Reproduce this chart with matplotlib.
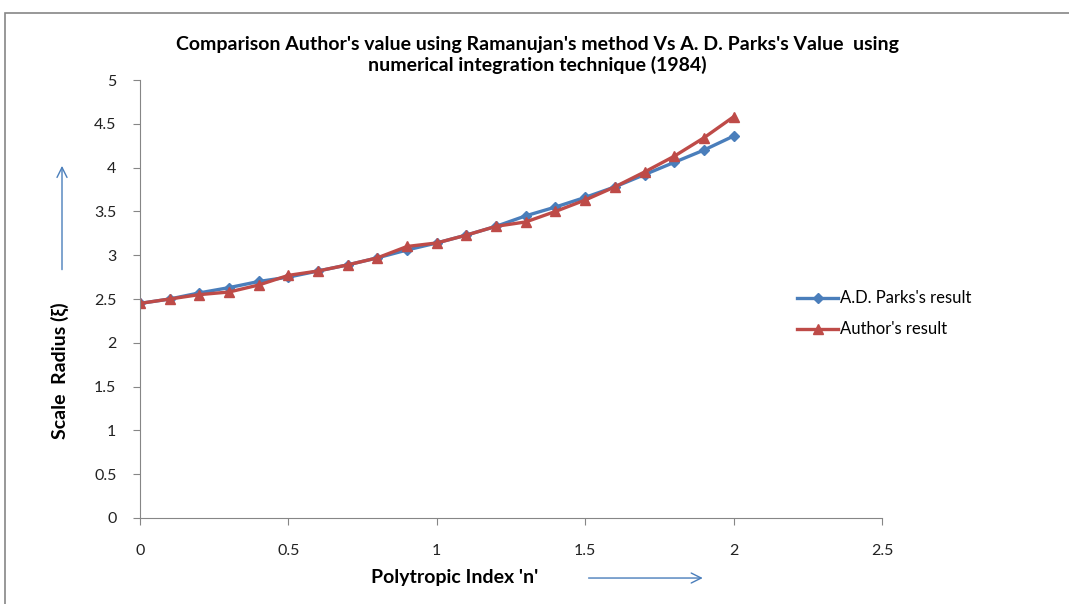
import matplotlib
matplotlib.use('Agg')
import matplotlib.pyplot as plt
from matplotlib.patches import Rectangle

# polytropic index n
n_values = [0.0, 0.1, 0.2, 0.3, 0.4, 0.5, 0.6, 0.7, 0.8, 0.9, 1.0,
            1.1, 1.2, 1.3, 1.4, 1.5, 1.6, 1.7, 1.8, 1.9, 2.0]
# scale radius, A.D. Parks (1984)
parks = [2.45, 2.50, 2.57, 2.63, 2.70, 2.75, 2.82, 2.89, 2.97, 3.06, 3.14,
         3.23, 3.33, 3.45, 3.55, 3.66, 3.78, 3.92, 4.06, 4.20, 4.36]
# scale radius, author (Ramanujan's method)
author = [2.45, 2.50, 2.55, 2.58, 2.66, 2.77, 2.82, 2.89, 2.97, 3.10, 3.14,
          3.23, 3.33, 3.38, 3.50, 3.63, 3.78, 3.95, 4.13, 4.34, 4.58]

x_ticks = [0, 0.5, 1, 1.5, 2, 2.5]
x_tick_labels = ['0', '0.5', '1', '1.5', '2', '2.5']
y_ticks = [0, 0.5, 1, 1.5, 2, 2.5, 3, 3.5, 4, 4.5, 5]
y_tick_labels = ['0', '0.5', '1', '1.5', '2', '2.5', '3', '3.5', '4', '4.5', '5']

plt.rcParams['font.family'] = ['Lato', 'DejaVu Sans']

fig = plt.figure(figsize=(10.69, 6.04), dpi=100)
ax = fig.add_axes([0.131, 0.1424, 0.694, 0.7251])

# outer chart frame
fig.patches.append(Rectangle((0.005, -0.01), 1.2, 0.988, transform=fig.transFigure,
                             fill=False, edgecolor='#868686', linewidth=1.2))

ax.plot(n_values, parks, '-D', color='#4A7EBB', linewidth=2.4, markersize=5,
        label="A.D. Parks's result")
ax.plot(n_values, author, '-^', color='#BE4B48', linewidth=2.4, markersize=7,
        label="Author's result")

ax.set_xlim(0, 2.5)
ax.set_ylim(0, 5)
ax.set_xticks(x_ticks)
ax.set_xticklabels(x_tick_labels)
ax.set_yticks(y_ticks)
ax.set_yticklabels(y_tick_labels)
ax.tick_params(axis='both', labelsize=11.5, colors='#868686', labelcolor='#222222')
ax.tick_params(axis='y', length=5, pad=12)
ax.tick_params(axis='x', length=5, pad=14)

for side in ['top', 'right']:
  ax.spines[side].set_visible(False)
for side in ['left', 'bottom']:
  ax.spines[side].set_color('#868686')

fig.text(0.503, 0.909, "Comparison Author's value using Ramanujan's method Vs A. D. Parks's Value  using\nnumerical integration technique (1984)",
         ha='center', va='center', fontsize=14, fontweight='bold', linespacing=1.25)
fig.text(0.056, 0.387, 'Scale  Radius (ξ)', rotation=90, ha='center', va='center',
         fontsize=14, fontweight='bold')
fig.text(0.425, 0.044, "Polytropic Index 'n'", ha='center', va='center',
         fontsize=14, fontweight='bold')

# arrows beside the axis titles
fig.add_artist(matplotlib.patches.FancyArrowPatch((0.058, 0.549), (0.058, 0.730),
               transform=fig.transFigure, arrowstyle='->', mutation_scale=18,
               color='#4A7EBB', linewidth=1))
fig.add_artist(matplotlib.patches.FancyArrowPatch((0.548, 0.043), (0.660, 0.043),
               transform=fig.transFigure, arrowstyle='->', mutation_scale=18,
               color='#4A7EBB', linewidth=1))

leg = ax.legend(loc='center left', bbox_to_anchor=(0.865, 0.466), frameon=False,
                fontsize=12, handlelength=2.5, handletextpad=0.1, labelspacing=0.9)

plt.savefig('out.png', dpi=100)
